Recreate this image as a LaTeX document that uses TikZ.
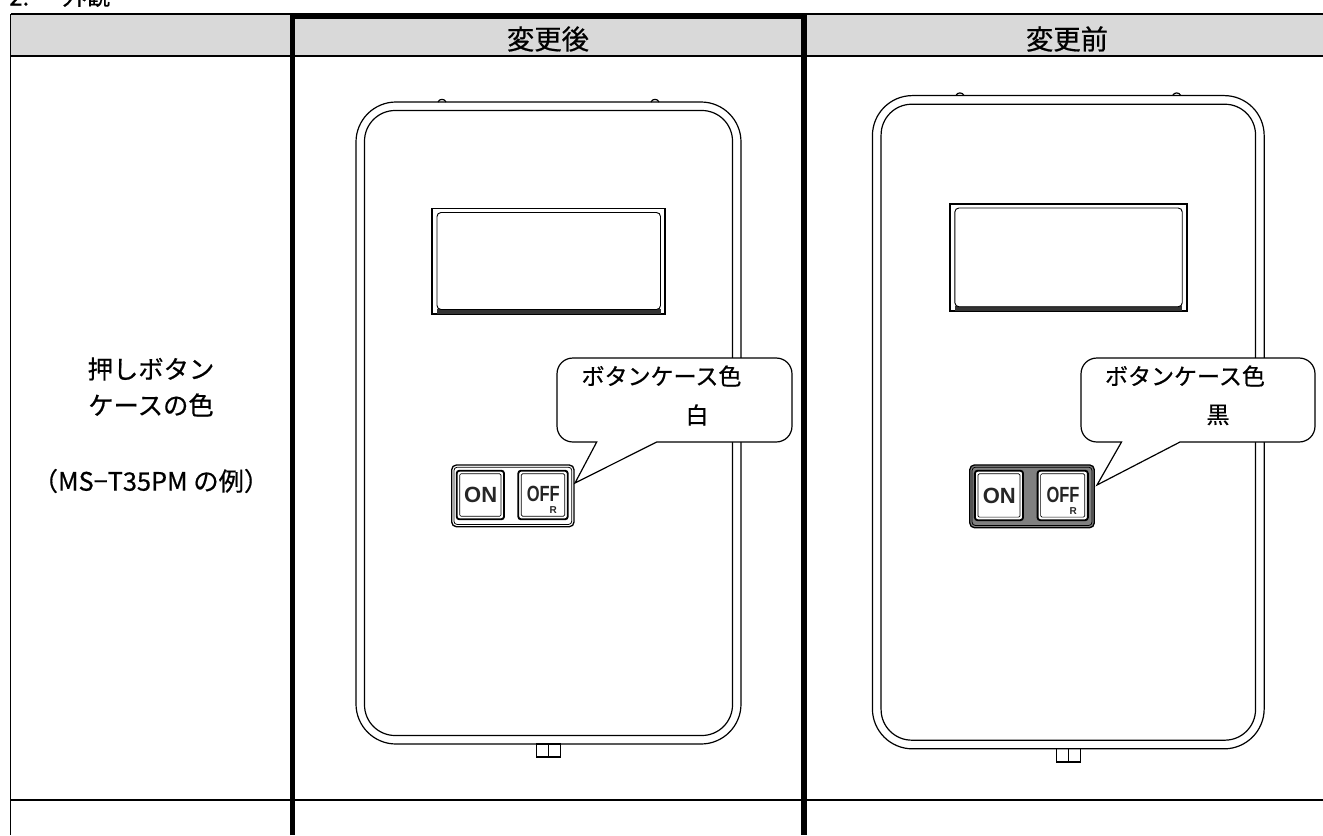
\documentclass[tikz,border=0pt]{standalone}
\usepackage{fontspec}
\newfontfamily\jp[FakeBold=0.6]{Noto Sans CJK JP}
\newfontfamily\btn{Liberation Sans}
\definecolor{hdrgray}{HTML}{D9D9D9}
\newcommand\devicedraw[2]{%
  % housing
  \draw[dev, rounded corners=30pt] (-192.5,-321) rectangle (192.5,321);
  \draw[dev, rounded corners=23pt] (-184,-312.5) rectangle (184,312.5);
  % top bumps
  \draw[dev] (-110.5,-321) .. controls (-109,-324.5) and (-104,-324.5) .. (-102.5,-321);
  \draw[dev] (102.5,-321) .. controls (104,-324.5) and (109,-324.5) .. (110.5,-321);
  % bottom connector
  \draw[dev] (-11.8,321) rectangle (11.8,334);
  \draw[dev] (0,321) -- (0,334);
  % display
  \draw[line width=1.4pt] (-116.5,-214.5) rectangle (116.5,-109);
  \fill[black!80] (-111.5,-114) rectangle (112,-109.5);
  \draw[line width=0.7pt, rounded corners=3pt, fill=white] (-111.5,-210.5) rectangle (112,-113.5);
  % button plate
  \draw[line width=1pt, rounded corners=3.5pt, fill=#1] (-96.8,42) rectangle (25.5,103.7);
  \draw[line width=0.6pt, rounded corners=2.5pt] (-94.6,44.2) rectangle (23.3,101.5);
  \foreach \a/\b in {-91.8/-44.5, -30.2/19.2} {
    \draw[line width=1.4pt, fill=white, rounded corners=2pt] (\a,47.7) rectangle (\b,96.3);
    \draw[line width=0.5pt, rounded corners=1pt] (\a+3,50.7) rectangle (\b-3,93.3);
  }
  \node[btntxt] (#2on) at (-67.8,72) {ON};
  \node[btntxt, xscale=0.75] (#2off) at (-5.2,71) {OFF};
  \node[btntxt, font=\btn\bfseries\fontsize{7.5}{7.5}\selectfont] (#2r) at (4.8,87.5) {R};
}
\begin{document}
\begin{tikzpicture}[x=0.75pt,y=-0.75pt,
  tline/.style={line width=1.2pt},
  thickline/.style={line width=4.1pt, line join=miter, line cap=butt},
  dev/.style={line width=0.9pt},
  callout/.style={draw, fill=white, line width=0.9pt, line join=miter},
  hdr/.style={font=\jp\fontsize{20.5}{20.5}\selectfont, inner sep=0pt},
  ttl/.style={font=\jp\fontsize{18}{18}\selectfont, inner sep=0pt},
  lbl/.style={font=\jp\fontsize{19}{19}\selectfont, inner sep=0pt},
  ctxt/.style={font=\jp\fontsize{17.25}{17.25}\selectfont, inner sep=0pt},
  btntxt/.style={font=\btn\bfseries\fontsize{16.5}{16.5}\selectfont, inner sep=0pt, text=black!85},
]
\useasboundingbox (0,0) rectangle (1323,835);
\clip (0,0) rectangle (1323,835);

% title (cut off at top)
\node[ttl, anchor=base west] (tnum) at (9,5.5) {2.};
\node[ttl, anchor=base west] (tname) at (62,5) {外観};

% table
\fill[hdrgray] (10.5,14) rectangle (1323,55.5);
\draw[tline] (10.5,14.2) -- (1323,14.2);
\draw[tline] (10.5,55.8) -- (1323,55.8);
\draw[tline] (10.5,14.2) -- (10.5,835);
\draw[tline] (10.5,800) -- (1323,800);
\draw[thickline] (292.5,835) -- (292.5,16.3) -- (803.8,16.3) -- (803.8,835);

% header texts
\node[hdr] (hafter) at (548,39) {変更後};
\node[hdr] (hbefore) at (1067,39) {変更前};

% left column
\node[lbl] (l1) at (151,369) {押しボタン};
\node[lbl] (l2) at (151,405) {ケースの色};
\node[lbl] (l3) at (151,481) {（MS−T35PM の例）};

% devices
\begin{scope}[shift={(548.5,423)}]
  \devicedraw{white}{a}
\end{scope}
\begin{scope}[shift={(1068.3,422.2)}, scale=1.0175]
  \devicedraw{black!50}{b}
\end{scope}

% callouts
\draw[callout] (596.7,442) -- (575,483) -- (656.7,442) -- (776,442)
  .. controls (785,442) and (792,435) .. (792,426) -- (792,374)
  .. controls (792,365) and (785,358) .. (776,358) -- (573,358)
  .. controls (564,358) and (557,365) .. (557,374) -- (557,426)
  .. controls (557,435) and (564,442) .. (573,442) -- cycle;
\node[ctxt] (c1a) at (661.5,376) {ボタンケース色};
\node[ctxt] (c1b) at (697,415) {白};

\draw[callout] (1121.5,442) -- (1097,485) -- (1180,442) -- (1299,442)
  .. controls (1308,442) and (1315,435) .. (1315,426) -- (1315,374)
  .. controls (1315,365) and (1308,358) .. (1299,358) -- (1097,358)
  .. controls (1088,358) and (1081,365) .. (1081,374) -- (1081,426)
  .. controls (1081,435) and (1088,442) .. (1097,442) -- cycle;
\node[ctxt] (c2a) at (1185,376) {ボタンケース色};
\node[ctxt] (c2b) at (1218,415) {黒};
\end{tikzpicture}
\end{document}
